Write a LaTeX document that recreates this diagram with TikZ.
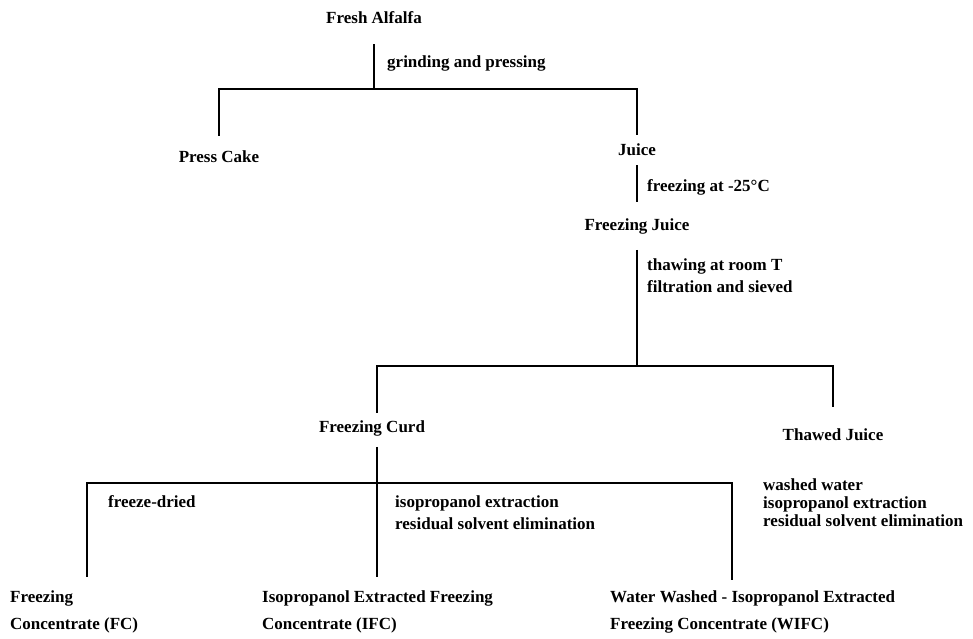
\documentclass[tikz,border=0pt]{standalone}
\usepackage{fontspec}
\setmainfont{Liberation Serif}
\usetikzlibrary{positioning}

\begin{document}
\begin{tikzpicture}[
    x=1pt, y=-1pt,
    stage/.style={inner sep=0pt, font=\bfseries\fontsize{17}{20}\selectfont},
    proc/.style={inner sep=0pt, anchor=west, align=left, font=\bfseries\fontsize{17}{22}\selectfont},
    product/.style={inner sep=0pt, anchor=north west, align=left, font=\bfseries\fontsize{17}{27}\selectfont},
    link/.style={line width=1.5pt},
  ]
    \useasboundingbox (0,0) rectangle (973,638);

    % Raw material
    \node[stage] (fresh) at (374,18) {Fresh Alfalfa};
    \coordinate (split1) at (fresh |- 0,89);
    \node[proc] (grind) at (387,63) {grinding and pressing};

    % Pressing
    \node[stage] (press) at (219,157) {Press Cake};
    \node[stage] (juice) at (637,150) {Juice};
    \node[proc] (freeze) at (647,187) {freezing at -25°C};
    \node[stage] (fjuice) at (637,226) {Freezing Juice};
    \node[proc] (thaw) at (647,276) {thawing at room T\\filtration and sieved};
    \coordinate (split2) at (fjuice |- 0,366);

    % Thawing
    \node[stage] (curd) at (372,428) {Freezing Curd};
    \node[stage] (thawed) at (833,435) {Thawed Juice};
    \coordinate (split3) at (377,483);

    % Treatments
    \node[proc] (dry) at (108,502) {freeze-dried};
    \node[proc] (extr) at (395,513) {isopropanol extraction\\residual solvent elimination};
    \node[proc, font=\bfseries\fontsize{17}{18}\selectfont] (wash) at (763,503) {washed water\\isopropanol extraction\\residual solvent elimination};

    % Concentrates
    \node[product] (fc) at (10,590) {Freezing\\Concentrate (FC)};
    \node[product] (ifc) at (262,590) {Isopropanol Extracted Freezing\\Concentrate (IFC)};
    \node[product] (wifc) at (610,590) {Water Washed - Isopropanol Extracted\\Freezing Concentrate (WIFC)};

    % Lines
    \draw[link, shorten <=20pt] (fresh) -- (split1);
    \draw[link, shorten >=15pt] (split1) -| (press);
    \draw[link, shorten >=9pt] (split1) -| (juice);
    \draw[link, shorten <=9pt, shorten >=16pt] (juice) -- (fjuice);
    \draw[link, shorten <=16pt] (fjuice) -- (split2);
    \draw[link, shorten >=7pt] (split2) -| ([xshift=5pt]curd.north);
    \draw[link, shorten >=22pt] (split2) -| (thawed);
    \draw[link, shorten <=11pt, shorten >=13pt] ([xshift=5pt]curd.south) -- (split3 |- ifc.north);
    \draw[link, shorten >=13pt] (split3) -| ([xshift=77pt]fc.north west);
    \draw[link, shorten >=10pt] (split3) -| ([xshift=122pt]wifc.north west);
\end{tikzpicture}
\end{document}
